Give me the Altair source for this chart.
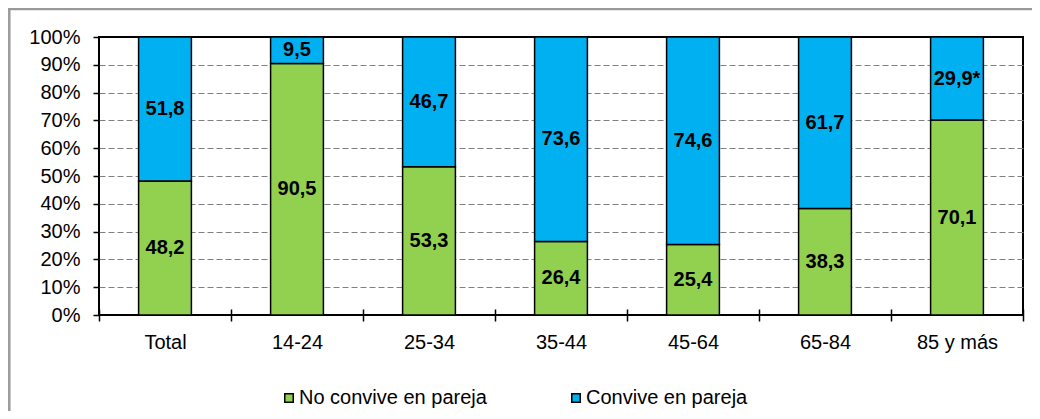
import altair as alt
import pandas as pd

categories = ["Total", "14-24", "25-34", "35-44", "45-64", "65-84", "85 y más"]
no_convive = [48.2, 90.5, 53.3, 26.4, 25.4, 38.3, 70.1]
convive = [51.8, 9.5, 46.7, 73.6, 74.6, 61.7, 29.9]
convive_notes = ["", "", "", "", "", "", "*"]
series_names = ["No convive en pareja", "Convive en pareja"]
series_colors = ["#92D050", "#00B0F0"]

FONT = "Liberation Sans"

rows = []
for i, c in enumerate(categories):
    a = no_convive[i]
    b = convive[i]
    rows.append({"cat": c, "series": series_names[0], "value": a, "ord": 0,
                 "mid": a / 2, "label": f"{a:.1f}".replace(".", ",")})
    rows.append({"cat": c, "series": series_names[1], "value": b, "ord": 1,
                 "mid": a + b / 2,
                 "label": f"{b:.1f}".replace(".", ",") + convive_notes[i]})
df = pd.DataFrame(rows)

x_axis = alt.Axis(title=None, domain=False, offset=-6, tickSize=12,
                  tickBand="extent", labelPadding=11, labelAngle=0,
                  labelFont=FONT, labelFontSize=20, labelColor="black",
                  tickColor="black", tickWidth=1.5, grid=False)
y_axis = alt.Axis(
    title=None, domain=False, values=list(range(0, 101, 10)),
    labelExpr="datum.value + '%'", tickSize=6, labelPadding=13,
    labelFont=FONT, labelFontSize=20, labelColor="black",
    labelOverlap=False,
    tickColor="black", tickWidth=1.5,
    grid=True, gridDash=[6, 3], gridColor="#808080", gridWidth=1,
    gridOpacity={"condition": {"test": "datum.value === 0 || datum.value === 100",
                               "value": 0}, "value": 1},
)
x_scale = alt.Scale(paddingInner=0, paddingOuter=0)
y_scale = alt.Scale(domain=[0, 100], nice=False)

bars = alt.Chart(df).mark_bar(
    stroke="black", strokeWidth=1.5, width=alt.RelativeBandSize(0.4)
).encode(
    x=alt.X("cat:N", sort=categories, scale=x_scale, axis=x_axis),
    y=alt.Y("value:Q", stack="zero", scale=y_scale, axis=y_axis),
    color=alt.Color(
        "series:N",
        scale=alt.Scale(domain=series_names, range=series_colors),
        legend=alt.Legend(
            orient="none", legendX=180, legendY=351, direction="horizontal",
            title=None, symbolType="square", symbolSize=72,
            symbolStrokeColor="black", symbolStrokeWidth=1.5,
            labelFontSize=20, labelFont=FONT, labelColor="black",
            labelLimit=0, columnPadding=79, labelOffset=0,
        ),
    ),
    order=alt.Order("ord:Q"),
)

labels = alt.Chart(df).mark_text(
    font=FONT, fontSize=20, fontWeight="bold", color="black", baseline="middle"
).encode(
    x=alt.X("cat:N", sort=categories, scale=x_scale, axis=x_axis),
    y=alt.Y("mid:Q", scale=y_scale, axis=y_axis),
    text="label:N",
)

border_df = pd.DataFrame({"k": [0]})
left_border = alt.Chart(border_df).mark_rule(color="#9a9a9a", strokeWidth=2.5).encode(
    x=alt.value(-89.7), y=alt.value(-28), y2=alt.value(400)
)
top_border = alt.Chart(border_df).mark_rule(color="#9a9a9a", strokeWidth=2.5).encode(
    x=alt.value(-91), x2=alt.value(1000), y=alt.value(-28)
)

chart = alt.layer(bars, labels, left_border, top_border).properties(
    width=924, height=278,
    background="white",
    autosize=alt.AutoSizeParams(type="none"),
    padding={"left": 91, "top": 29, "right": 9, "bottom": 96},
).configure_view(
    stroke="black", strokeWidth=2
)

chart.save("out.html", embed_options={"renderer": "svg", "actions": False})
